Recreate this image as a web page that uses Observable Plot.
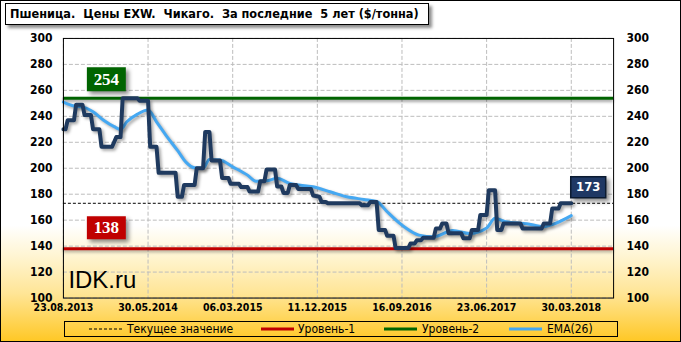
<!DOCTYPE html>
<html><head><meta charset="utf-8">
<script src="https://cdn.jsdelivr.net/npm/d3@7"></script>
<script src="https://cdn.jsdelivr.net/npm/@observablehq/plot@0.6"></script>
<style>
html,body{margin:0;padding:0;background:#fff;}
#chart{position:relative;width:679px;height:340px;border:1px solid #000;overflow:hidden;
  background:linear-gradient(to bottom,#ffffff 0%,#ffffff 66%,#fff5d2 75%,#ffe596 86%,#ffc826 100%);
  font-family:"DejaVu Sans Condensed","DejaVu Sans",sans-serif;}
#plot{position:absolute;left:-1px;top:-1px;}
#title{position:absolute;left:4px;top:2px;width:424px;height:22px;box-sizing:border-box;background:#fff;
  border:1px solid #000;box-shadow:3px 3px 3px rgba(0,0,0,0.45);font-weight:bold;font-size:12.6px;
  line-height:20px;padding-left:4px;white-space:pre;color:#000;}
#legend{position:absolute;left:63px;top:320px;width:554px;height:16px;box-sizing:border-box;border:1px solid #000;}
#legend .t{position:absolute;top:0;font-size:12px;line-height:14px;color:#000;white-space:nowrap;}
#legend svg{position:absolute;top:0;}
</style></head>
<body>
<div id="chart">
  <div id="plot"></div>
  <div id="title"></div>
  <div id="legend"></div>
</div>
<script>
// ---- data ----
const titleText = "Пшеница.  Цены EXW.  Чикаго.  За последние  5 лет ($/тонна)";
const tickWeeks = [0, 40, 80, 120, 160, 200, 240];
const tickLabels = ["23.08.2013", "30.05.2014", "06.03.2015", "11.12.2015", "16.09.2016", "23.06.2017", "30.03.2018"];
const yTicks = [100, 120, 140, 160, 180, 200, 220, 240, 260, 280, 300];
const level1 = 138;   // Уровень-1
const level2 = 254;   // Уровень-2
const current = 173;  // Текущее значение

// weekly price, vertices of the step-like line (week index since 23.08.2013)
const priceWeek = [0,1,2,5,6,9,10,13,14,17,18,23,25,27,28,35,36,40,41,44,45,53,54,56,57,62,63,66,67,69,70,74,75,78,79,83,84,87,88,92,93,95,96,100,101,103,104,106,107,110,111,117,118,121,122,124,125,140,141,144,145,148,149,152,153,156,157,163,164,166,167,169,170,175,176,178,179,181,182,188,189,192,193,196,197,200,201,204,205,207,208,216,217,226,227,230,231,234,235,240];
const priceUsd  = [230,230,237,237,249,249,241,241,230,230,216.5,216.5,224,224,254,254,252,252,216.5,216.5,196.5,196.5,178,178,187,187,200,200,228,228,206,206,192.5,192.5,188,188,185.5,185.5,182,182,190,190,199,199,186,186,181,181,187,187,184,184,179,178,174,174,173,173,171.5,171.5,174,174,152.5,152.5,148,148,138.5,138.5,142,142,144.5,144.5,146.5,146.5,153.5,153.5,157.5,157.5,150,150,146,146,152.5,152.5,164,164,183,183,152.5,152.5,157.5,157.5,153.5,153.5,157.5,157.5,169,169,173,173];

// EMA(26)
const emaWeek = [0,5,9,14,19,24,27,30,35,40,44,49,54,58,62,66,69,74,80,87,91,96,101,107,118,126,134,142,148,153,159,162,168,175,184,192,200,204,209,219,227,231,240];
const emaUsd  = [251,248,247.3,243.5,237,232,230,235.8,241.7,244.8,235.8,224.2,213.5,204.5,200.3,200,206.8,206.3,201.1,194.7,190,190.3,192.2,188.3,185.7,181.9,178,176,174.5,166.5,157.5,153.7,148.5,147.2,152,149.7,154,161.4,158.8,157.3,155,156.6,163.5];

const legendItems = [
  {label: "Текущее значение", color: "#000", dash: "3,2", width: 1, left: 24, tleft: 62},
  {label: "Уровень-1", color: "#c00000", dash: null, width: 3, left: 196, tleft: 233},
  {label: "Уровень-2", color: "#006400", dash: null, width: 3, left: 319, tleft: 357},
  {label: "EMA(26)", color: "#45a8f2", dash: null, width: 3, left: 444, tleft: 482}
];

// ---- build ----
const price = priceWeek.map((w, i) => ({w, v: priceUsd[i]}));
const ema = emaWeek.map((w, i) => ({w, v: emaUsd[i]}));
const last = price[price.length - 1];

const boxSymbol = (bw, bh) => ({draw(ctx) {
  ctx.moveTo(-bw / 2, -bh / 2); ctx.lineTo(bw / 2, -bh / 2);
  ctx.lineTo(bw / 2, bh / 2); ctx.lineTo(-bw / 2, bh / 2); ctx.closePath();
}});

const font = '"DejaVu Sans Condensed","DejaVu Sans",sans-serif';
const gridStyle = {stroke: "#bdbdbd", strokeOpacity: 1, strokeDasharray: "4,2"};

const plot = Plot.plot({
  width: 681, height: 342,
  marginTop: 38, marginBottom: 44, marginLeft: 63, marginRight: 67,
  style: {background: "transparent", fontFamily: font, overflow: "visible"},
  x: {domain: [0, 260], axis: null},
  y: {domain: [100, 300], axis: null},
  marks: [
    Plot.gridY(yTicks, gridStyle),
    Plot.gridX(tickWeeks, gridStyle),
    Plot.ruleY([level2], {stroke: "#006400", strokeWidth: 3}),
    Plot.ruleY([level1], {stroke: "#c00000", strokeWidth: 3}),
    Plot.ruleY([current], {stroke: "#000", strokeWidth: 1, strokeDasharray: "3,2"}),
    Plot.line(ema, {x: "w", y: "v", stroke: "#45a8f2", strokeWidth: 3, curve: "monotone-x"}),
    Plot.line(price, {x: "w", y: "v", stroke: "#1f3a5f", strokeWidth: 4, strokeLinejoin: "round"}),
    Plot.frame({stroke: "#000"}),
    Plot.axisY(yTicks, {anchor: "left", label: null, tickSize: 0, tickPadding: 11, fontWeight: "bold", fontSize: 12, fill: "#000"}),
    Plot.axisY(yTicks, {anchor: "right", label: null, tickSize: 0, tickPadding: 13, fontWeight: "bold", fontSize: 12, fill: "#000"}),
    Plot.axisX(tickWeeks, {anchor: "bottom", label: null, tickSize: 0, tickPadding: 6, fontWeight: "bold", fontSize: 10.5, fill: "#000",
      tickFormat: d => tickLabels[tickWeeks.indexOf(d)]}),
    // value boxes
    Plot.dot([level2], {y: d => d, frameAnchor: "left", dx: 43, dy: -19, r: 5, symbol: boxSymbol(39, 24), fill: "#006400", stroke: "none"}),
    Plot.dot([level1], {y: d => d, frameAnchor: "left", dx: 43, dy: -21, r: 5, symbol: boxSymbol(39, 23), fill: "#c00000", stroke: "none"}),
    Plot.dot([last], {x: "w", y: "v", dx: 17, dy: -16, r: 5, symbol: boxSymbol(35, 21), fill: "#1f3864", stroke: "#0b1a30"}),
    Plot.text([level2], {y: d => d, text: d => String(d), frameAnchor: "left", dx: 43, dy: -19, textAnchor: "middle", lineAnchor: "middle",
      fill: "#fff", fontSize: 17, fontWeight: "bold", fontFamily: '"Liberation Serif","DejaVu Serif",serif'}),
    Plot.text([level1], {y: d => d, text: d => String(d), frameAnchor: "left", dx: 43, dy: -21, textAnchor: "middle", lineAnchor: "middle",
      fill: "#fff", fontSize: 17, fontWeight: "bold", fontFamily: '"Liberation Serif","DejaVu Serif",serif'}),
    Plot.text([last], {x: "w", y: "v", text: d => String(d.v), dx: 17, dy: -16, textAnchor: "middle", lineAnchor: "middle",
      fill: "#fff", fontSize: 13, fontWeight: "bold"}),
    Plot.text(["IDK.ru"], {frameAnchor: "bottom-left", text: d => d, dx: 5, dy: -10, fontSize: 24, fill: "#000",
      fontFamily: '"Liberation Sans",Arial,sans-serif'})
  ]
});
document.getElementById("plot").appendChild(plot);

// shadows
const sh = "drop-shadow(2px 2px 1.5px rgba(0,0,0,0.35))";
plot.querySelectorAll('g[aria-label="line"]').forEach(g => g.style.filter = sh);
const rules = plot.querySelectorAll('g[aria-label="rule"]');
if (rules[0]) rules[0].style.filter = "drop-shadow(0px 2px 1.5px rgba(0,0,0,0.4))";
if (rules[1]) rules[1].style.filter = "drop-shadow(0px 2px 1.5px rgba(0,0,0,0.3))";
plot.querySelectorAll('g[aria-label="dot"]').forEach(g => g.style.filter = "drop-shadow(3px 3px 2px rgba(0,0,0,0.45))");

// title
document.getElementById("title").textContent = titleText;

// legend
const lg = document.getElementById("legend");
for (const it of legendItems) {
  const s = document.createElementNS("http://www.w3.org/2000/svg", "svg");
  s.setAttribute("width", 34); s.setAttribute("height", 14);
  s.style.left = it.left + "px";
  const ln = document.createElementNS("http://www.w3.org/2000/svg", "line");
  ln.setAttribute("x1", 0); ln.setAttribute("x2", 33); ln.setAttribute("y1", 7); ln.setAttribute("y2", 7);
  ln.setAttribute("stroke", it.color); ln.setAttribute("stroke-width", it.width);
  if (it.dash) ln.setAttribute("stroke-dasharray", it.dash);
  s.appendChild(ln); lg.appendChild(s);
  const t = document.createElement("div");
  t.className = "t"; t.style.left = it.tleft + "px"; t.textContent = it.label;
  lg.appendChild(t);
}
</script>
</body></html>
